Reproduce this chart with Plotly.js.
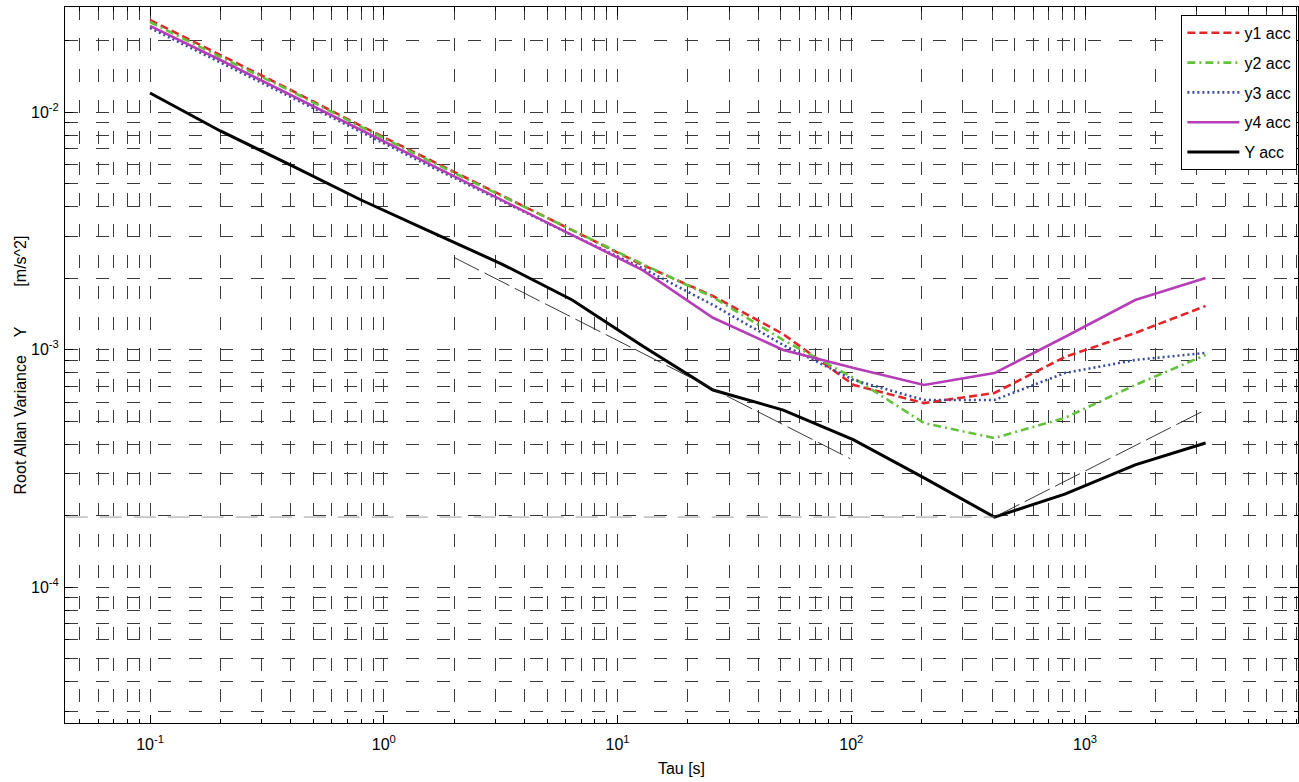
<!DOCTYPE html>
<html>
<head>
<meta charset="utf-8">
<script src="https://cdn.plot.ly/plotly-3.0.1.min.js"></script>
<style>html,body{margin:0;padding:0;background:#fff;overflow:hidden}#chart{width:1299px;height:782px}</style>
</head>
<body>
<div id="chart"></div>
<script>
// ---- data ----
const tau = [0.1, 0.2, 0.4, 0.8, 1.6, 3.2, 6.4, 12.8, 25.6, 51.2, 102.4, 204.8, 409.6, 819.2, 1638.4, 3276.8];
const y1acc = [0.0244, 0.01738, 0.01238, 0.00873, 0.00622, 0.00443, 0.00318, 0.00227, 0.00168, 0.00116, 0.000709, 0.000595, 0.000656, 0.00093, 0.001173, 0.001524];
const y2acc = [0.02393, 0.01704, 0.01226, 0.00865, 0.00616, 0.00443, 0.00318, 0.00229, 0.00166, 0.001096, 0.000759, 0.00049, 0.000424, 0.000515, 0.000709, 0.000948];
const y3acc = [0.02259, 0.01623, 0.01157, 0.00824, 0.00587, 0.00422, 0.00303, 0.0022, 0.00154, 0.001044, 0.000744, 0.000613, 0.000613, 0.000796, 0.000903, 0.000967];
const y4acc = [0.02303, 0.01655, 0.01179, 0.0084, 0.00598, 0.00426, 0.00303, 0.00216, 0.00136, 0.000995, 0.000836, 0.000709, 0.000796, 0.001129, 0.001616, 0.002];
const Yacc = [0.01202, 0.00832, 0.00598, 0.00426, 0.00312, 0.00229, 0.001616, 0.001035, 0.000675, 0.000556, 0.000416, 0.000288, 0.000197, 0.000246, 0.000327, 0.000404];

// thin reference (fit) lines
const arwTau = [2.0, 99];
const arwVal = [0.00244, 0.000347];
const rrwTau = [409.6, 3276.8];
const rrwVal = [0.000197, 0.000557];
const biasTau = [0.0436, 409.6];
const biasVal = [0.000197, 0.000197];

// ticks
const xTickVals = [0.1, 1, 10, 100, 1000];
const xTickText = ['10<sup>-1</sup>', '10<sup>0</sup>', '10<sup>1</sup>', '10<sup>2</sup>', '10<sup>3</sup>'];
const yTickVals = [1e-4, 1e-3, 1e-2];
const yTickText = ['10<sup>-4</sup>', '10<sup>-3</sup>', '10<sup>-2</sup>'];

function minorLog(p0, p1) {
  const out = [];
  for (let p = p0; p <= p1; p++) {
    for (let m = 2; m <= 9; m++) out.push(m * Math.pow(10, p));
  }
  return out;
}
const xMinor = minorLog(-2, 3);
const yMinor = minorLog(-5, -2);

const FONT = 'Arial, "Liberation Sans", Helvetica, sans-serif';
const GRID = '#3a3a3a';
const GDASH = '13px,18px';
const NB = '\u00a0';

const traces = [
  {x: tau, y: y1acc, name: 'y1 acc', legendgroup: 'a', mode: 'lines',
   line: {color: '#e3262b', width: 2.6, dash: '8px,4px'}},
  {x: tau, y: y2acc, name: 'y2 acc', legendgroup: 'b', mode: 'lines',
   line: {color: '#62c23a', width: 2.6, dash: '8px,4px,2px,4px'}},
  {x: tau, y: y3acc, name: 'y3 acc', legendgroup: 'c', mode: 'lines',
   line: {color: '#3b4c9f', width: 2.6, dash: '2px,3px'}},
  {x: tau, y: y4acc, name: 'y4 acc', legendgroup: 'd', mode: 'lines',
   line: {color: '#b53db7', width: 2.6}},
  {x: tau, y: Yacc, name: 'Y acc', legendgroup: 'e', mode: 'lines',
   line: {color: '#000000', width: 3}},
  {x: arwTau, y: arwVal, mode: 'lines', showlegend: false, hoverinfo: 'skip',
   line: {color: '#222', width: 0.9, dash: '28px,6px'}},
  {x: rrwTau, y: rrwVal, mode: 'lines', showlegend: false, hoverinfo: 'skip',
   line: {color: '#222', width: 0.9, dash: '28px,6px'}},
  {x: biasTau, y: biasVal, mode: 'lines', showlegend: false, hoverinfo: 'skip',
   line: {color: '#9a9a9a', width: 1, dash: '22px,12px'}}
];

const axisCommon = {
  type: 'log',
  tickmode: 'array',
  ticks: 'inside',
  ticklen: 8,
  tickwidth: 1,
  tickcolor: '#000',
  showline: true,
  linecolor: '#000',
  linewidth: 1,
  mirror: 'allticks',
  showgrid: true,
  gridcolor: GRID,
  gridwidth: 1,
  griddash: GDASH,
  zeroline: false,
  tickfont: {family: FONT, size: 16, color: '#000'}
};

const layout = {
  width: 1299,
  height: 782,
  margin: {l: 65, r: 1, t: 7, b: 59},
  paper_bgcolor: '#fff',
  plot_bgcolor: '#fff',
  font: {family: FONT, color: '#000'},
  xaxis: Object.assign({}, axisCommon, {
    range: [-1.3636, 3.911],
    tickvals: xTickVals,
    ticktext: xTickText,
    ticklabelstandoff: 7,
    minor: {tickmode: 'array', tickvals: xMinor, ticks: 'inside', ticklen: 4, tickcolor: '#000',
            showgrid: true, gridcolor: GRID, gridwidth: 1, griddash: GDASH},
    title: {text: 'Tau [s]', font: {family: FONT, size: 16, color: '#000'}, standoff: 10}
  }),
  yaxis: Object.assign({}, axisCommon, {
    range: [-4.5726, -1.5579],
    tickvals: yTickVals,
    ticktext: yTickText,
    ticklabelstandoff: 2,
    minor: {tickmode: 'array', tickvals: yMinor, ticks: 'inside', ticklen: 4, tickcolor: '#000',
            showgrid: true, gridcolor: GRID, gridwidth: 1, griddash: GDASH},
    title: {text: 'Root Allan Variance' + NB.repeat(4) + 'Y' + NB.repeat(9) + '[m/s^2]',
            font: {family: FONT, size: 16, color: '#000'}, standoff: 0}
  }),
  legend: {
    x: 0.9995, xanchor: 'right', y: 0.989, yanchor: 'top',
    bgcolor: '#fff', bordercolor: '#000', borderwidth: 1,
    font: {family: FONT, size: 16, color: '#000'},
    traceorder: 'grouped', tracegroupgap: 6, itemwidth: 52
  },
  showlegend: true
};

Plotly.newPlot('chart', traces, layout, {displayModeBar: false, staticPlot: true});
</script>
</body>
</html>
